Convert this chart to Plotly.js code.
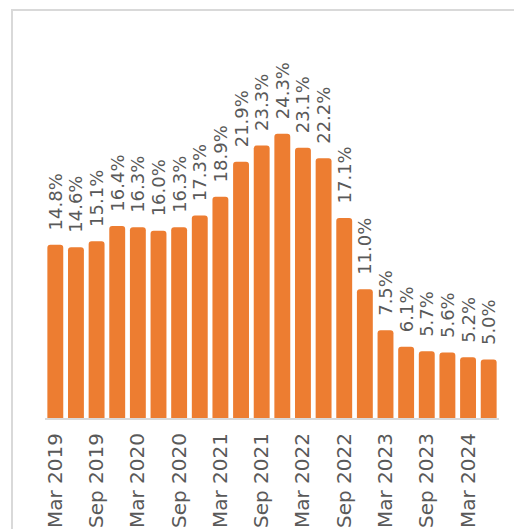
<!DOCTYPE html>
<html>
<head>
<meta charset="utf-8">
<script src="https://cdn.plot.ly/plotly-3.0.1.min.js"></script>
<style>
html,body{margin:0;padding:0;background:#fff;overflow:hidden;}
#wrap{position:relative;width:514px;height:529px;}
#frame{position:absolute;left:11px;top:9px;width:520px;height:540px;border:2px solid #d9d9d9;box-sizing:border-box;pointer-events:none;}
#chart{position:absolute;left:0;top:0;width:514px;height:529px;}
</style>
</head>
<body>
<div id="wrap"><div id="chart"></div><div id="frame"></div></div>
<script>
const quarters = ["Mar 2019","Jun 2019","Sep 2019","Dec 2019","Mar 2020","Jun 2020","Sep 2020","Dec 2020",
  "Mar 2021","Jun 2021","Sep 2021","Dec 2021","Mar 2022","Jun 2022","Sep 2022","Dec 2022",
  "Mar 2023","Jun 2023","Sep 2023","Dec 2023","Mar 2024","Jun 2024"];
const values = [14.8,14.6,15.1,16.4,16.3,16.0,16.3,17.3,18.9,21.9,23.3,24.3,23.1,22.2,17.1,11.0,7.5,6.1,5.7,5.6,5.2,5.0];
const tickLabels = ["Mar 2019","Sep 2019","Mar 2020","Sep 2020","Mar 2021","Sep 2021","Mar 2022","Sep 2022","Mar 2023","Sep 2023","Mar 2024"];

const trace = {
  type: 'bar',
  x: quarters,
  y: values,
  marker: {color: '#ED7D31', cornerradius: 3},
  text: values.map(v => '\u00a0\u00a0' + v.toFixed(1) + '%'),
  textposition: 'outside',
  textangle: -90,
  constraintext: 'none',
  cliponaxis: false,
  textfont: {family: 'DejaVu Sans, sans-serif', size: 18, color: '#595959'},
  hoverinfo: 'none'
};

const layout = {
  width: 514, height: 529,
  margin: {l: 45, r: 15, t: 67, b: 111},
  paper_bgcolor: 'rgba(0,0,0,0)',
  plot_bgcolor: 'rgba(0,0,0,0)',
  bargap: 0.23,
  showlegend: false,
  xaxis: {
    type: 'category',
    tickmode: 'array',
    tickvals: tickLabels,
    ticktext: tickLabels,
    tickangle: -90,
    ticklabelstandoff: 5,
    tickfont: {family: 'DejaVu Sans, sans-serif', size: 20, color: '#595959'},
    showline: true, linecolor: '#d9d9d9', linewidth: 2,
    showgrid: false, zeroline: false, ticks: '', ticklen: 0
  },
  yaxis: {
    range: [0, 30],
    visible: false,
    showgrid: false, zeroline: false
  }
};
Plotly.newPlot('chart', [trace], layout, {displayModeBar: false, staticPlot: true});
</script>
</body>
</html>
